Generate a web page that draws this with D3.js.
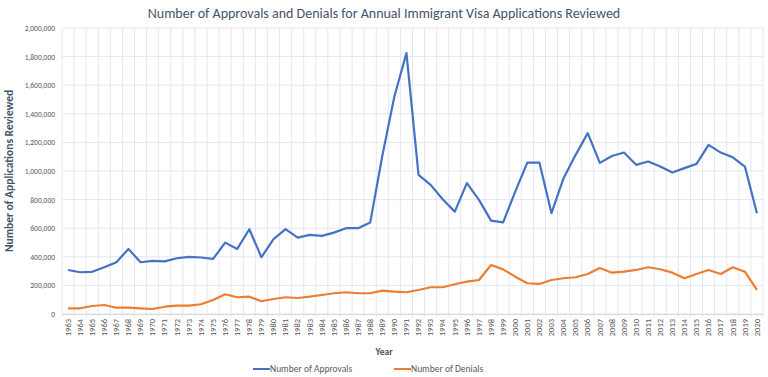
<!DOCTYPE html>
<html>
<head>
<meta charset="utf-8">
<script src="https://cdn.jsdelivr.net/npm/d3@7"></script>
<style>
  body { margin: 0; background: #fff; }
  text { font-family: Calibri, Carlito, "Open Sans", sans-serif; }
</style>
</head>
<body>
<svg id="chart" width="768" height="377"></svg>
<script>
// years shown on the category axis
let years = d3.range(1963, 2021).map(String);

let approvals = [
  308000, 292000, 295000, 327000, 362000, 455000, 362000, 371000, 368000, 390000,
  399000, 395000, 385000, 499000, 455000, 593000, 397000, 523000, 593000, 534000,
  553000, 546000, 569000, 600000, 600000, 639000, 1105000, 1521000, 1824000, 973000,
  903000, 803000, 716000, 915000, 798000, 653000, 641000, 856000, 1059000, 1059000,
  705000, 950000, 1113000, 1265000, 1057000, 1105000, 1129000, 1043000, 1066000, 1031000,
  989000, 1020000, 1050000, 1183000, 1129000, 1096000, 1031000, 705000
];

let denials = [
  40000, 40000, 56000, 63000, 44000, 44000, 40000, 35000, 51000, 58000,
  58000, 68000, 98000, 138000, 117000, 121000, 89000, 105000, 117000, 112000,
  121000, 133000, 145000, 152000, 145000, 145000, 163000, 156000, 152000, 168000,
  187000, 187000, 208000, 226000, 238000, 343000, 312000, 261000, 215000, 210000,
  238000, 250000, 257000, 280000, 322000, 289000, 296000, 308000, 327000, 313000,
  289000, 250000, 280000, 308000, 280000, 327000, 296000, 168000
];

let y_ticks = d3.range(0, 2000001, 200000);

let series = [
  {name: "Number of Approvals", values: approvals, color: "#4472C4"},
  {name: "Number of Denials", values: denials, color: "#ED7D31"}
];

let svg = d3.select("#chart"),
  plot_left = 62, plot_right = 763, plot_top = 28, plot_bottom = 314;

let x = d3.scaleBand()
  .domain(years)
  .range([plot_left, plot_right]);

let y = d3.scaleLinear()
  .domain([0, 2000000])
  .range([plot_bottom, plot_top]);

// gridlines
let grid = svg.append("g");
grid.selectAll("line.h")
  .data(y_ticks).enter()
  .append("line")
  .attr("x1", plot_left).attr("x2", plot_right)
  .attr("y1", d => y(d)).attr("y2", d => y(d))
  .attr("stroke", "#e4e7ee").attr("stroke-width", 1);

grid.selectAll("line.v")
  .data(years.concat(["end"])).enter()
  .append("line")
  .attr("x1", (d, i) => plot_left + i * x.step())
  .attr("x2", (d, i) => plot_left + i * x.step())
  .attr("y1", plot_top).attr("y2", plot_bottom + 3)
  .attr("stroke", "#e4e7ee").attr("stroke-width", 1);

// y axis labels
let fmt = d3.format(",");
svg.append("g")
  .attr("transform", `translate(${plot_left},0)`)
  .call(d3.axisLeft(y).tickValues(y_ticks).tickSize(0).tickPadding(7).tickFormat(fmt))
  .call(g => g.select(".domain").remove())
  .selectAll("text")
  .attr("font-size", 7.5)
  .attr("fill", "#595959")
  .attr("font-family", "Calibri, Carlito, 'Open Sans', sans-serif");

// x axis labels
let xa = svg.append("g")
  .attr("transform", `translate(0,${plot_bottom})`)
  .call(d3.axisBottom(x).tickSize(0).tickPadding(0));
xa.select(".domain").attr("stroke", "#d9d9d9");
xa.selectAll("text")
  .attr("font-size", 8.5)
  .attr("fill", "#595959")
  .attr("font-family", "Calibri, Carlito, 'Open Sans', sans-serif")
  .attr("text-anchor", "end")
  .attr("dy", "0.32em")
  .attr("transform", "translate(0,5) rotate(-90)")
  .attr("y", 0).attr("x", 0);

// lines
let line = d3.line()
  .x((d, i) => x(years[i]) + x.bandwidth() / 2)
  .y(d => y(d));

svg.selectAll("path.series")
  .data(series).enter()
  .append("path")
  .attr("d", d => line(d.values))
  .attr("fill", "none")
  .attr("stroke", d => d.color)
  .attr("stroke-width", 2.2)
  .attr("stroke-linejoin", "round");

// title
svg.append("text")
  .attr("x", 384).attr("y", 18)
  .attr("text-anchor", "middle")
  .attr("font-size", 14)
  .attr("fill", "#44546A")
  .text("Number of Approvals and Denials for Annual Immigrant Visa Applications Reviewed");

// axis titles
svg.append("text")
  .attr("transform", "translate(13,171) rotate(-90)")
  .attr("text-anchor", "middle")
  .attr("font-size", 11.5)
  .attr("font-weight", "bold")
  .attr("fill", "#44546A")
  .text("Number of Applications Reviewed");

svg.append("text")
  .attr("x", 384).attr("y", 355)
  .attr("text-anchor", "middle")
  .attr("font-size", 9.5)
  .attr("font-weight", "bold")
  .attr("fill", "#44546A")
  .text("Year");

// legend
let legend = svg.append("g");
let lx = [253, 394];
legend.selectAll("g")
  .data(series).enter()
  .append("g")
  .attr("transform", (d, i) => `translate(${lx[i]},369)`)
  .each(function(d) {
    let g = d3.select(this);
    g.append("line")
      .attr("x1", 0).attr("x2", 17)
      .attr("stroke", d.color).attr("stroke-width", 2);
    g.append("text")
      .attr("x", 17).attr("dy", "0.32em")
      .attr("font-size", 9.5)
      .attr("fill", "#595959")
      .text(d.name);
  });
</script>
</body>
</html>
